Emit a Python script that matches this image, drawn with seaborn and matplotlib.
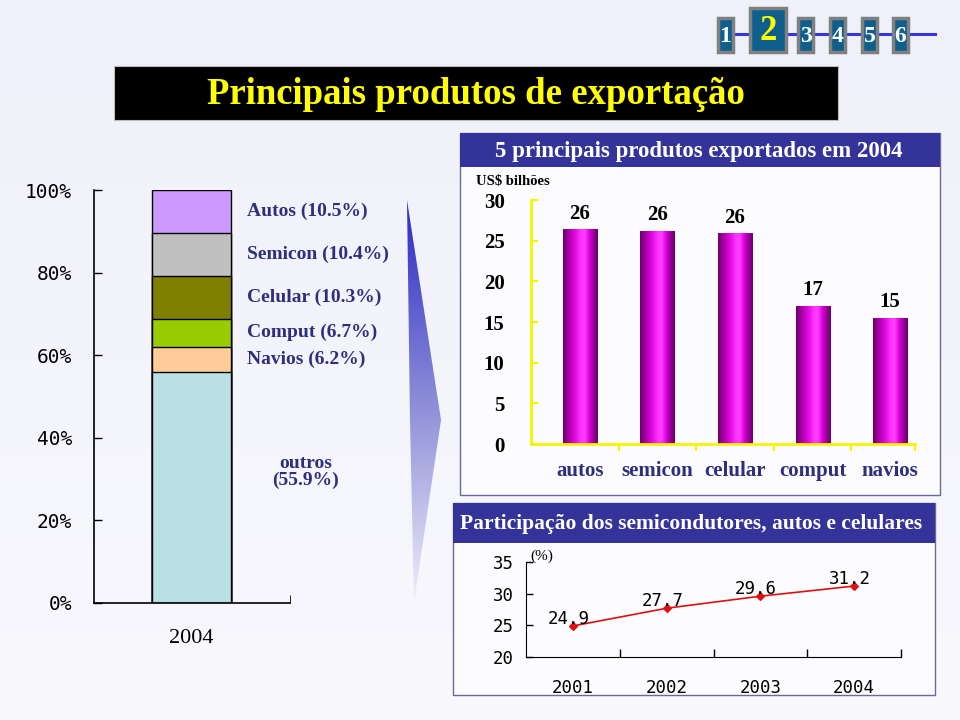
"""Slide: principais produtos de exportação (2004)."""

import numpy as np
import matplotlib
matplotlib.use("Agg")
import matplotlib.pyplot as plt
from matplotlib.colors import LinearSegmentedColormap
from matplotlib.patches import Rectangle, Polygon
import seaborn as sns

SERIF = "Liberation Serif"
MONO = "DejaVu Sans Mono"
NAVY = "#2e2e7e"
HEADER = "#333399"

# left stacked bar: share of exports in 2004 (bottom -> top)
share_names = ["outros", "Navios", "Comput", "Celular", "Semicon", "Autos"]
share_values = [55.9, 6.2, 6.7, 10.3, 10.4, 10.5]
share_colors = ["#b9e1e3", "#ffcc99", "#99cc00", "#808000", "#c0c0c0", "#cc99ff"]
share_year = "2004"

# top right: 5 main exported products (US$ bilhões)
products = ["autos", "semicon", "celular", "comput", "navios"]
export_values = [26.4, 26.2, 25.9, 17.0, 15.5]
export_labels = ["26", "26", "26", "17", "15"]

# bottom right: share of semicondutores, autos e celulares (%)
years = ["2001", "2002", "2003", "2004"]
share_pct = [24.9, 27.7, 29.6, 31.2]

nav_pages = ["1", "2", "3", "4", "5", "6"]
current_page = "2"

W, H = 960, 720


def rect(x0, y0, x1, y1):
    # pixel box (y from top) -> figure fraction
    return [x0 / W, 1 - y1 / H, (x1 - x0) / W, (y1 - y0) / H]


fig = plt.figure(figsize=(9.6, 7.2), dpi=100)

# ---- decoration layer ----
deco = fig.add_axes([0, 0, 1, 1])
deco.set_xlim(0, W)
deco.set_ylim(H, 0)
deco.axis("off")

bg = LinearSegmentedColormap.from_list("bg", ["#f0f0fa", "#f8f8fd"])
deco.imshow(np.linspace(0, 1, 256).reshape(-1, 1), cmap=bg, aspect="auto",
            extent=(0, W, H, 0), zorder=0)

# main title
deco.add_patch(Rectangle((114, 66), 724, 54, facecolor="black", edgecolor="#bbbbbb",
                         lw=0.8, zorder=1))
deco.text(476, 94, "Principais produtos de exportação", color="#ffff00",
          fontsize=26.5, fontweight="bold", family=SERIF, ha="center", va="center", zorder=2)

# page navigation
deco.plot([733, 935], [34, 34], color="#3535e0", lw=2.2, zorder=1)
nav_x = [718, 750, 798, 830, 862, 893]
for page, x in zip(nav_pages, nav_x):
    big = page == current_page
    w, y0 = (36, 8) if big else (15, 18)
    deco.add_patch(Rectangle((x, y0), w, 52 - y0, facecolor="#0e5f8e",
                             edgecolor="#808080", lw=2.5, zorder=2))
    deco.text(x + w / 2, (y0 + 52) / 2 + 1, page, color="#ffff00" if big else "white",
              fontsize=25 if big else 17, fontweight="bold", family=SERIF,
              ha="center", va="center", zorder=3)

# gradient arrow between panels
arrow = Polygon([(407, 200), (441, 420), (414, 602), (410, 420)], closed=True,
                facecolor="none", edgecolor="none", transform=deco.transData)
deco.add_patch(arrow)
arrow_cmap = LinearSegmentedColormap.from_list("arr", ["#2a2ac4", "#8c8cd8", "#eeeefa"])
im = deco.imshow(np.linspace(0, 1, 256).reshape(-1, 1), cmap=arrow_cmap, aspect="auto",
                 extent=(405, 443, 602, 200), zorder=1)
im.set_clip_path(arrow)

# panel boxes
for (x0, y0, x1, y1, hy, title, fs, tx) in [
        (460, 133, 940, 495, 167, "5 principais produtos exportados em 2004", 16.5, 699),
        (453, 503, 935, 695, 543, "Participação dos semicondutores, autos e celulares", 15.5, 691)]:
    deco.add_patch(Rectangle((x0, y0), x1 - x0, y1 - y0, facecolor="#fcfcff",
                             edgecolor="#6a6a9a", lw=1, zorder=1))
    deco.add_patch(Rectangle((x0, y0), x1 - x0, hy - y0, facecolor=HEADER,
                             edgecolor="none", zorder=2))
    deco.text(tx, (y0 + hy) / 2 + 1, title, color="white", fontsize=fs, fontweight="bold",
              family=SERIF, ha="center", va="center", zorder=3)

deco.text(476, 181, "US$ bilhões", fontsize=10.5, fontweight="bold", family=SERIF,
          ha="left", va="center", zorder=3)
deco.text(542, 556, "(%)", fontsize=11, family=SERIF, ha="center", va="center", zorder=3)

# ---- left: stacked share bar ----
ax1 = fig.add_axes(rect(94, 190, 290, 603))
ax1.patch.set_alpha(0)
cum = np.cumsum(share_values)
for top, col in zip(cum[::-1], share_colors[::-1]):
    sns.barplot(x=[share_year], y=[top], color=col, saturation=1, width=0.8,
                edgecolor="black", linewidth=1, ax=ax1)
ax1.set_xlim(-0.99, 1.0)
ax1.set_ylim(0, 100)
ax1.set_yticks(range(0, 101, 20))
ax1.set_yticklabels([f"{v}%" for v in range(0, 101, 20)], family=MONO, fontsize=14)
ax1.tick_params(axis="y", direction="in", length=6, width=1, pad=16)
ax1.tick_params(axis="x", length=0, pad=19, labelsize=16)
for lab in ax1.get_xticklabels():
    lab.set_family(SERIF)
ax1.set_xticks([1.0], minor=True)
ax1.tick_params(axis="x", which="minor", direction="in", length=6)
for s in ["top", "right"]:
    ax1.spines[s].set_visible(False)
for s in ["left", "bottom"]:
    ax1.spines[s].set_linewidth(1.2)
ax1.set_xlabel("")
ax1.set_ylabel("")

mids = cum - np.array(share_values) / 2
lab_tf = ax1.get_yaxis_transform()
for name, val, mid in zip(share_names[1:], share_values[1:], mids[1:]):
    ax1.text(0.78, mid, f"{name} ({val}%)", transform=lab_tf, color=NAVY, fontsize=14,
             fontweight="bold", family=SERIF, ha="left", va="center", clip_on=False)
ax1.text(1.08, 31.7, f"{share_names[0]}\n({share_values[0]}%)", transform=lab_tf,
         color=NAVY, fontsize=14, fontweight="bold", family=SERIF, ha="center",
         va="center", linespacing=1.0, clip_on=False)

# ---- right top: product bars ----
ax2 = fig.add_axes(rect(531, 200, 915, 444))
ax2.patch.set_alpha(0)
sns.barplot(x=products, y=export_values, color="#ff00ff", saturation=1, width=0.44, ax=ax2)
bar_cmap = LinearSegmentedColormap.from_list(
    "bar", ["#6c006c", "#9c009c", "#c800c8", "#e410e4", "#ff30ff", "#ff40ff",
            "#e000e0", "#9a009a", "#6c006c"])
grad = np.linspace(0, 1, 64).reshape(1, -1)
for p in ax2.patches:
    x0, y0 = p.get_x(), p.get_y()
    g = ax2.imshow(grad, cmap=bar_cmap, aspect="auto", zorder=p.get_zorder() + 0.1,
                   extent=(x0, x0 + p.get_width(), y0, y0 + p.get_height()))
    g.set_clip_path(p)
ax2.set_xlim(-0.63, 4.32)
ax2.set_ylim(0, 30)
ax2.bar_label(ax2.containers[0], labels=export_labels, padding=4, fontsize=15,
              fontweight="bold", family=SERIF)
ax2.set_yticks(range(0, 31, 5))
ax2.tick_params(axis="y", direction="in", length=5, width=1.5, color="#f5f500",
                pad=19, labelsize=15)
for lab in ax2.get_yticklabels():
    lab.set_family(SERIF)
    lab.set_fontweight("bold")
ax2.tick_params(axis="x", length=0, pad=12, labelsize=15, labelcolor=NAVY)
for lab in ax2.get_xticklabels():
    lab.set_family(SERIF)
    lab.set_fontweight("bold")
ax2.set_xticks([0.5, 1.5, 2.5, 3.5, 4.32], minor=True)
ax2.tick_params(axis="x", which="minor", direction="out", length=5, width=1.5,
                color="#f5f500")
for s in ["top", "right"]:
    ax2.spines[s].set_visible(False)
for s in ["left", "bottom"]:
    ax2.spines[s].set_color("#f5f500")
    ax2.spines[s].set_linewidth(2)
ax2.set_xlabel("")
ax2.set_ylabel("")

# ---- right bottom: share line ----
ax3 = fig.add_axes(rect(526, 562, 901, 657))
ax3.patch.set_alpha(0)
sns.pointplot(x=years, y=share_pct, color="#dd1111", markers="D", markersize=4,
              linewidth=1.2, errorbar=None, ax=ax3)
ax3.set_xlim(-0.5, 3.5)
ax3.set_ylim(20, 35)
ax3.set_yticks([20, 25, 30, 35])
ax3.tick_params(axis="y", direction="in", length=5, width=1, pad=9, labelsize=12.5)
ax3.tick_params(axis="x", length=0, pad=16, labelsize=12.5)
for lab in ax3.get_xticklabels() + ax3.get_yticklabels():
    lab.set_family(MONO)
ax3.set_xticks([0.5, 1.5, 2.5, 3.5], minor=True)
ax3.tick_params(axis="x", which="minor", direction="in", length=6, width=1)
for s in ["top", "right"]:
    ax3.spines[s].set_visible(False)
ax3.set_xlabel("")
ax3.set_ylabel("")
for (px, py), val in zip(ax3.lines[0].get_xydata(), share_pct):
    ax3.annotate(f"{val}", (px, py), xytext=(-3, 1.5), textcoords="offset points",
                 ha="center", va="baseline", fontsize=12.5, family=MONO)

fig.savefig("out.png", dpi=100)
